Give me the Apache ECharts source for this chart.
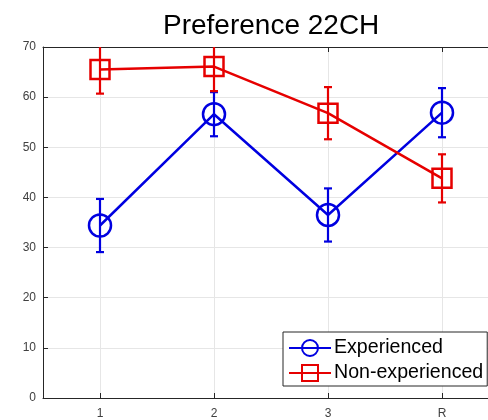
<!DOCTYPE html>
<html>
<head>
<meta charset="utf-8">
<script src="https://cdn.jsdelivr.net/npm/echarts@6/dist/echarts.min.js"></script>
<style>
html,body{margin:0;padding:0;background:#fff;overflow:hidden;}
#c{width:488px;height:420px;}
</style>
</head>
<body>
<div id="c"></div>
<script>
const categories = ['1', '2', '3', 'R'];
const expMean = [34.4, 56.6, 36.5, 56.9];
const expErr = [5.3, 4.4, 5.3, 4.9];
const nonMean = [65.5, 66.1, 56.8, 43.8];
const nonErr = [4.8, 4.9, 5.2, 4.8];
const seriesNames = ['Experienced', 'Non-experienced'];
const titleText = 'Preference 22CH';

const BLUE = '#0000e0';
const RED = '#e60000';
const FONT = '"Liberation Sans", Arial, Helvetica, sans-serif';

function errData(mean, err) {
  return mean.map((m, i) => [i, m - err[i], m + err[i]]);
}
function makeErrRender(color) {
  return function (params, api) {
    const x = api.value(0);
    const lo = api.coord([x, api.value(1)]);
    const hi = api.coord([x, api.value(2)]);
    const cap = 4;
    const st = { stroke: color, lineWidth: 2.2 };
    return {
      type: 'group',
      children: [
        { type: 'line', shape: { x1: lo[0], y1: lo[1], x2: hi[0], y2: hi[1] }, style: st },
        { type: 'line', shape: { x1: lo[0] - cap, y1: lo[1], x2: lo[0] + cap, y2: lo[1] }, style: st },
        { type: 'line', shape: { x1: hi[0] - cap, y1: hi[1], x2: hi[0] + cap, y2: hi[1] }, style: st }
      ]
    };
  };
}

const chart = echarts.init(document.getElementById('c'), null, { renderer: 'canvas' });
chart.setOption({
  animation: false,
  backgroundColor: '#fff',
  textStyle: { fontFamily: FONT },
  title: {
    text: titleText,
    left: 163, top: 12, padding: 0,
    textStyle: { fontFamily: FONT, fontSize: 28, fontWeight: 'normal', color: '#000' }
  },
  grid: { left: 43, top: 47, width: 456, height: 351, containLabel: false, outerBoundsMode: 'none' },
  legend: {
    data: seriesNames,
    orient: 'vertical',
    left: 283, top: 332,
    itemWidth: 42, itemHeight: 20, itemGap: 5,
    padding: [6, 4, 3, 5],
    borderColor: '#262626', borderWidth: 1, backgroundColor: '#fff',
    textStyle: { fontFamily: FONT, fontSize: 19.6, color: '#000', padding: [0, 0, 0, -2] }
  },
  xAxis: [{
    type: 'category', data: categories, boundaryGap: true, position: 'bottom',
    axisLine: { show: true, lineStyle: { color: '#262626', width: 1 } },
    axisTick: { show: true, inside: true, alignWithLabel: true, length: 5, lineStyle: { color: '#262626' } },
    axisLabel: { fontFamily: FONT, fontSize: 12, color: '#404040', margin: 10 },
    splitLine: { show: true, alignWithLabel: true, lineStyle: { color: '#e6e6e6', width: 1 } }
  }, {
    type: 'category', data: categories, boundaryGap: true, position: 'top',
    axisLine: { show: true, lineStyle: { color: '#262626', width: 1 } },
    axisTick: { show: true, inside: true, alignWithLabel: true, length: 5, lineStyle: { color: '#262626' } },
    axisLabel: { show: false },
    splitLine: { show: false }
  }],
  yAxis: {
    type: 'value', min: 0, max: 70, interval: 10,
    axisLine: { show: true, lineStyle: { color: '#262626', width: 1 } },
    axisTick: { show: true, inside: true, length: 5, lineStyle: { color: '#262626' } },
    axisLabel: { fontFamily: FONT, fontSize: 12, color: '#404040', margin: 7 },
    splitLine: { show: true, lineStyle: { color: '#e6e6e6', width: 1 } }
  },
  series: [
    {
      type: 'custom', name: 'expErr', clip: true, z: 2,
      renderItem: makeErrRender(BLUE), data: errData(expMean, expErr)
    },
    {
      type: 'line', name: seriesNames[0], data: expMean, z: 3,
      symbol: 'circle', symbolSize: 22,
      lineStyle: { color: BLUE, width: 2.5 },
      itemStyle: { color: 'rgba(0,0,0,0)', borderColor: BLUE, borderWidth: 2.5 }
    },
    {
      type: 'custom', name: 'nonErr', clip: true, z: 4,
      renderItem: makeErrRender(RED), data: errData(nonMean, nonErr)
    },
    {
      type: 'line', name: seriesNames[1], data: nonMean, z: 5,
      symbol: 'rect', symbolSize: 19,
      lineStyle: { color: RED, width: 2.5 },
      itemStyle: { color: 'rgba(0,0,0,0)', borderColor: RED, borderWidth: 2.5 }
    }
  ]
});
</script>
</body>
</html>
